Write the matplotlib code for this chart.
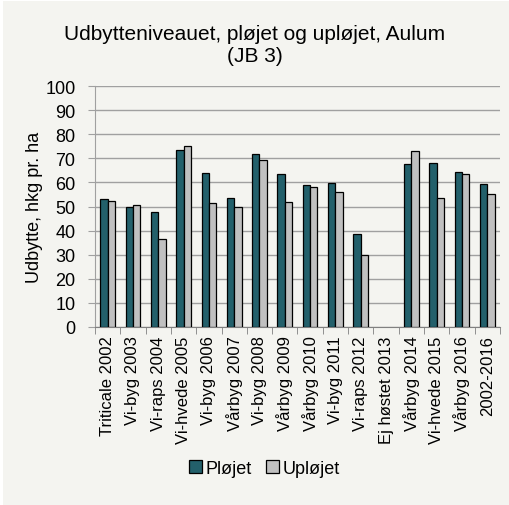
import numpy as np
import matplotlib.pyplot as plt
from matplotlib.patches import Rectangle

plt.rcParams['font.family'] = ['Liberation Sans', 'DejaVu Sans']

categories = ["Triticale 2002", "Vi-byg 2003", "Vi-raps 2004", "Vi-hvede 2005",
              "Vi-byg 2006", "Vårbyg 2007", "Vi-byg 2008", "Vårbyg 2009",
              "Vårbyg 2010", "Vi-byg 2011", "Vi-raps 2012", "Ej høstet 2013",
              "Vårbyg 2014", "Vi-hvede 2015", "Vårbyg 2016", "2002-2016"]
ploejet = [53.0, 49.9, 47.9, 73.3, 63.9, 53.6, 71.7, 63.4,
           59.0, 59.6, 38.5, np.nan, 67.8, 68.2, 64.3, 59.5]
uploejet = [52.2, 50.7, 36.7, 75.2, 51.3, 49.9, 69.3, 51.8,
            58.0, 56.1, 29.8, np.nan, 73.0, 53.6, 63.6, 55.0]

bg = '#F4F4F0'
fig = plt.figure(figsize=(5.09, 5.06), dpi=100, facecolor='white')
fig.patches.append(Rectangle((0.006, 0.0), 0.994, 0.996, transform=fig.transFigure,
                             facecolor=bg, edgecolor='none', zorder=-10))

ax = fig.add_axes([0.1866, 0.3518, 0.7956, 0.4762])
ax.set_facecolor(bg)

x = np.arange(len(categories))
w = 0.29
ax.bar(x - w / 2, ploejet, w, color='#23606B', edgecolor='black', linewidth=0.9,
       label='Pløjet', zorder=3)
ax.bar(x + w / 2, uploejet, w, color='#C0C0C0', edgecolor='black', linewidth=0.9,
       label='Upløjet', zorder=3)

ax.set_xlim(-0.5, len(categories) - 0.5)
ax.set_ylim(0, 100)
ax.set_yticks(range(0, 101, 10))
ax.yaxis.grid(True, color='#A0A0A0', linewidth=1.0, zorder=0)
ax.tick_params(axis='y', labelsize=13, length=5, color='#A0A0A0', pad=9)

ax.set_xticks(x)
ax.set_xticklabels(categories, rotation=90, fontsize=12)
ax.set_xticks(np.arange(-0.5, len(categories)), minor=True)
ax.tick_params(axis='x', which='major', length=0, pad=6)
ax.tick_params(axis='x', which='minor', length=5, color='#808080')

for s in ['top', 'right']:
    ax.spines[s].set_visible(False)
ax.spines['left'].set_color('#A0A0A0')
ax.spines['bottom'].set_color('#808080')

ax.set_ylabel('Udbytte, hkg pr. ha', fontsize=13, labelpad=2)
fig.text(0.5, 0.91, 'Udbytteniveauet, pløjet og upløjet, Aulum\n(JB 3)',
         ha='center', va='center', fontsize=15, linespacing=1.25)

leg = fig.legend(loc='center', bbox_to_anchor=(0.52, 0.073), ncol=2, frameon=False,
                 fontsize=13, handlelength=0.7, handleheight=0.7,
                 handletextpad=0.2, columnspacing=0.8)

fig.savefig('out.png', dpi=100, facecolor=fig.get_facecolor())
